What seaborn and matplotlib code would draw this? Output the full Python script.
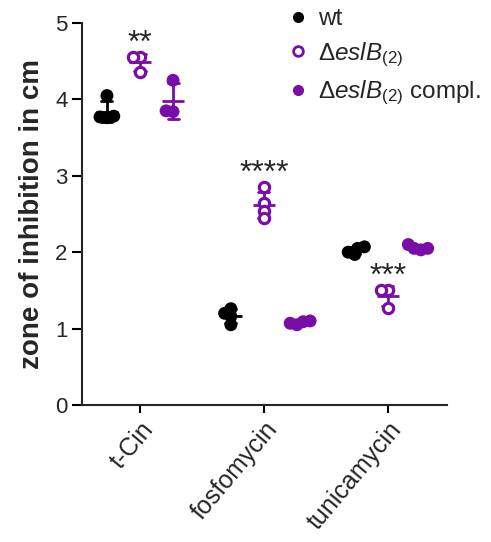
import numpy as np
import pandas as pd
import matplotlib
matplotlib.use('Agg')
import matplotlib.pyplot as plt
import seaborn as sns
from matplotlib.lines import Line2D

drugs = ['t-Cin', 'fosfomycin', 'tunicamycin']
strains = ['wt', 'eslB', 'compl']
strain_labels = ['wt',
                 r'$\Delta\mathit{eslB}_{\mathit{(2)}}$',
                 r'$\Delta\mathit{eslB}_{\mathit{(2)}}$ compl.']

wt_tcin = [4.05, 3.78, 3.77, 3.76]
eslb_tcin = [4.55, 4.55, 4.36]
compl_tcin = [4.25, 3.85, 3.84]

wt_fosfo = [1.26, 1.20, 1.16, 1.05]
eslb_fosfo = [2.85, 2.64, 2.54, 2.45]
compl_fosfo = [1.10, 1.07, 1.05, 1.09]

wt_tunica = [2.07, 2.05, 2.00, 1.97]
eslb_tunica = [1.50, 1.50, 1.27]
compl_tunica = [2.10, 2.05, 2.05, 2.03]

stars = ['**', '****', '***']  # eslB vs wt

purple = '#7a0ca8'
palette = {'wt': 'black', 'eslB': purple, 'compl': purple}

values = {
    ('t-Cin', 'wt'): wt_tcin, ('t-Cin', 'eslB'): eslb_tcin, ('t-Cin', 'compl'): compl_tcin,
    ('fosfomycin', 'wt'): wt_fosfo, ('fosfomycin', 'eslB'): eslb_fosfo, ('fosfomycin', 'compl'): compl_fosfo,
    ('tunicamycin', 'wt'): wt_tunica, ('tunicamycin', 'eslB'): eslb_tunica, ('tunicamycin', 'compl'): compl_tunica,
}
rows = []
for (drug, strain), vals in values.items():
    for v in vals:
        rows.append({'drug': drug, 'strain': strain, 'value': v})
df = pd.DataFrame(rows)

sns.set_style('ticks')
plt.rcParams['font.family'] = ['Liberation Sans', 'DejaVu Sans']
plt.rcParams['mathtext.fontset'] = 'custom'
plt.rcParams['mathtext.rm'] = 'Liberation Sans'
plt.rcParams['mathtext.it'] = 'Liberation Sans:italic'

fig = plt.figure(figsize=(4.91, 5.42), dpi=100)
ax = fig.add_axes([0.167, 0.2528, 0.743, 0.7048])

# Einzelwerte: Swarm mit kleinen Punkten berechnen, danach groesser zeichnen
swarm_colls = {}
for strain in strains:
    n_before = len(ax.collections)
    sns.swarmplot(data=df[df['strain'] == strain], x='drug', y='value',
                  hue='strain', hue_order=strains, order=drugs,
                  palette=palette, dodge=True, size=4.8, linewidth=0,
                  legend=False, ax=ax)
    swarm_colls[strain] = ax.collections[n_before:]

# Mittelwert +/- SD
sns.pointplot(data=df, x='drug', y='value', hue='strain', hue_order=strains,
              order=drugs, palette=palette, dodge=0.534, errorbar='sd',
              marker='_', markersize=16, markeredgewidth=2, linestyle='none',
              capsize=0.09, err_kws={'linewidth': 2}, legend=False, ax=ax)

for i, drug in enumerate(drugs):
    top = max(values[(drug, 'eslB')])
    ax.text(i, top + 0.18, stars[i], ha='center', va='center', fontsize=23)

ax.set_ylim(0, 5)
ax.set_xlim(-0.468, 2.476)
ax.set_yticks([0, 1, 2, 3, 4, 5])
ax.set_xticks(range(len(drugs)))
ax.set_xticklabels(drugs, rotation=50, ha='right', rotation_mode='anchor')
ax.set_xlabel('')
ax.set_ylabel('zone of inhibition in cm', fontsize=20, fontweight='bold', labelpad=7)
ax.tick_params(axis='both', width=1.5, length=7, labelsize=16, color='black')
ax.tick_params(axis='x', length=6, pad=3, labelsize=18)
for side in ['left', 'bottom']:
    ax.spines[side].set_linewidth(1.5)
sns.despine(ax=ax)

# Positionen festschreiben, dann Markergroesse setzen
fig.canvas.draw()
for strain, colls in swarm_colls.items():
    for coll in colls:
        if 'draw' in vars(coll):
            del coll.draw
        if strain == 'eslB':
            coll.set_facecolor('white')
            coll.set_edgecolor(purple)
            coll.set_linewidth(2.3)
            coll.set_sizes([7.4 ** 2])
        else:
            coll.set_sizes([9.3 ** 2])

handles = [
    Line2D([], [], marker='o', linestyle='none', color='black', markersize=7),
    Line2D([], [], marker='o', linestyle='none', markerfacecolor='white',
           markeredgecolor=purple, markeredgewidth=2, markersize=7),
    Line2D([], [], marker='o', linestyle='none', color=purple, markersize=7),
]
fig.legend(handles, strain_labels, loc='upper left', bbox_to_anchor=(0.5825, 0.985),
           frameon=False, fontsize=17.5, handlelength=1.0, handletextpad=0.3,
           labelspacing=0.42, borderpad=0, borderaxespad=0)

fig.savefig('out.png', dpi=100)
